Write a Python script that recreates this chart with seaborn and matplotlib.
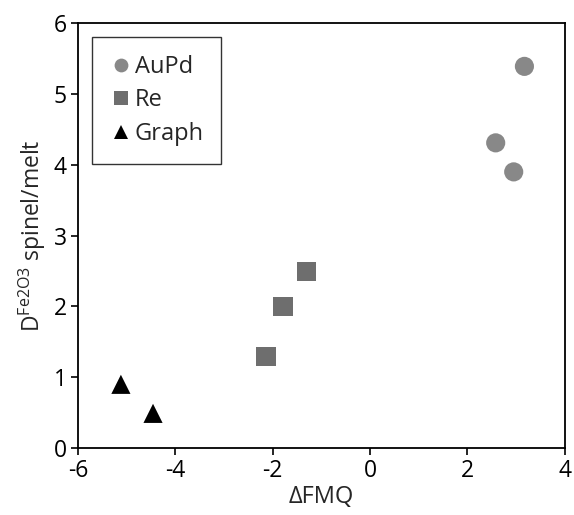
import matplotlib
matplotlib.use("Agg")
import matplotlib.pyplot as plt
import seaborn as sns
import pandas as pd

groups = ["AuPd", "AuPd", "AuPd", "Re", "Re", "Re", "Graph", "Graph"]
dfmq = [3.17, 2.58, 2.95, -2.14, -1.79, -1.30, -5.12, -4.46]
dval = [5.39, 4.31, 3.90, 1.29, 2.00, 2.49, 0.90, 0.49]

df = pd.DataFrame({"group": groups, "x": dfmq, "y": dval})

sns.set_theme(style="white")
plt.rcParams['font.family'] = ['Open Sans', 'DejaVu Sans']
plt.rcParams['axes.unicode_minus'] = False

fig = plt.figure(figsize=(5.74, 5.15), dpi=100)
ax = fig.add_axes([0.136, 0.130, 0.848, 0.825])

palette = {"AuPd": "#888888", "Re": "#6e6e6e", "Graph": "#000000"}
markers = {"AuPd": "o", "Re": "s", "Graph": "^"}
sns.scatterplot(data=df, x="x", y="y", hue="group", style="group",
                palette=palette, markers=markers, s=190, linewidth=0,
                ax=ax, legend=True)

ax.set_xlim(-6, 4)
ax.set_ylim(0, 6)
ax.set_xticks([-6, -4, -2, 0, 2, 4])
ax.set_yticks([0, 1, 2, 3, 4, 5, 6])
ax.tick_params(axis="both", direction="out", length=5, width=1.2, labelsize=16.5,
               colors="black", bottom=True, left=True, pad=3)
for sp in ax.spines.values():
    sp.set_color("black")
    sp.set_linewidth(1.3)
ax.set_xlabel("ΔFMQ", fontsize=17, labelpad=1)
ax.set_ylabel(r"D$^{\mathregular{Fe2O3}}$ spinel/melt", fontsize=16.5, labelpad=4)

leg = ax.legend(loc="upper left", bbox_to_anchor=(0.029, 0.967), fontsize=17,
                frameon=True, fancybox=False, edgecolor="black",
                handlelength=0.9, handletextpad=0.15, borderpad=0.75,
                labelspacing=0.4, markerscale=0.72, borderaxespad=0.0)
leg.get_frame().set_linewidth(1.0)

fig.savefig("out.png", dpi=100)
